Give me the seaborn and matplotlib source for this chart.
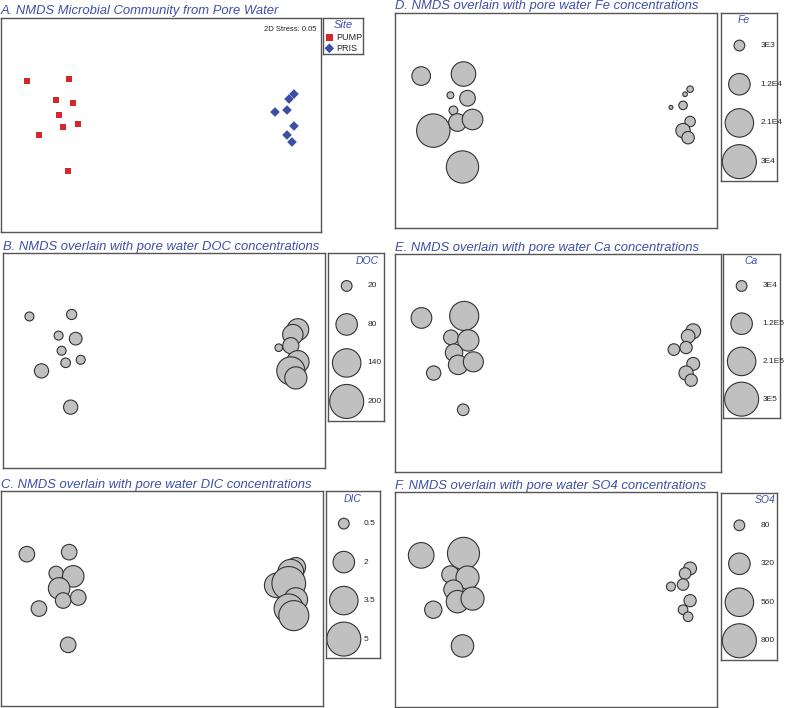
import numpy as np
import pandas as pd
import matplotlib
matplotlib.use("Agg")
import matplotlib.pyplot as plt
import seaborn as sns

# NMDS ordination scores and pore water chemistry per sample
site = ["PUMP"] * 9 + ["PRIS"] * 7
nmds1 = [-1.34, -0.92, -1.05, -0.88, -1.02, -0.98, -0.83, -1.22, -0.93,
         1.33, 1.28, 1.14, 1.26, 1.33, 1.26, 1.31]
nmds2 = [0.44, 0.46, 0.25, 0.22, 0.10, -0.02, 0.01, -0.10, -0.46,
         0.31, 0.26, 0.13, 0.15, -0.01, -0.10, -0.17]
doc = [14, 18, 14, 28, 14, 16, 14, 35, 35, 82, 72, 10, 45, 87, 137, 85]
dic = [1.05, 1.05, 0.88, 2.0, 2.0, 1.05, 1.05, 1.05, 1.05,
       1.65, 2.9, 2.6, 4.9, 2.4, 3.7, 3.9]
fe = [9000, 15600, 1200, 6400, 2000, 8100, 11000, 29000, 27000,
      1100, 550, 400, 1900, 2850, 5400, 4000]
ca = [1.11e5, 2.2e5, 5.7e4, 1.18e5, 7.9e4, 9.8e4, 1.04e5, 5.3e4, 3.5e4,
      5.7e4, 4.8e4, 3.5e4, 3.9e4, 4.3e4, 5.3e4, 3.9e4]
so4 = [455, 711, 207, 369, 256, 348, 369, 207, 348,
       114, 92, 56, 92, 103, 64, 64]

# bubble legend keys
doc_leg = [20, 80, 140, 200]
dic_leg = [0.5, 2, 3.5, 5]
fe_leg = [3e3, 1.2e4, 2.1e4, 3e4]
ca_leg = [3e4, 1.2e5, 2.1e5, 3e5]
so4_leg = [80, 320, 560, 800]
doc_lab = ["20", "80", "140", "200"]
dic_lab = ["0.5", "2", "3.5", "5"]
fe_lab = ["3E3", "1.2E4", "2.1E4", "3E4"]
ca_lab = ["3E4", "1.2E5", "2.1E5", "3E5"]
so4_lab = ["80", "320", "560", "800"]

df = pd.DataFrame({"site": site, "nmds1": nmds1, "nmds2": nmds2,
                   "DOC": doc, "DIC": dic, "Fe": fe, "Ca": ca, "SO4": so4})

sns.set_style("white")
plt.rcParams["font.family"] = ["Liberation Sans", "DejaVu Sans"]

W, H = 787, 708
TITLE_BLUE = "#3d4fab"
RED = "#d7262c"
BLUE = "#3b4fa6"
SPINE = "#555555"
S_MAX = (34 * 0.72) ** 2   # marker area (pt^2) of the largest legend bubble
TITLE_FS = 9.4


def px_rect(x0, y0, x1, y1):
    return [x0 / W, 1 - y1 / H, (x1 - x0) / W, (y1 - y0) / H]


def style_box(ax):
    ax.set_xticks([]); ax.set_yticks([])
    ax.set_xlabel(""); ax.set_ylabel("")
    for sp in ax.spines.values():
        sp.set_visible(True)
        sp.set_color(SPINE)
        sp.set_linewidth(1.0)


fig = plt.figure(figsize=(W / 100, H / 100), dpi=100)

# ---- A: community NMDS
ax = fig.add_axes(px_rect(1, 18.3, 321, 231.7))
sns.scatterplot(data=df, x="nmds1", y="nmds2", hue="site", style="site",
                markers={"PUMP": "s", "PRIS": "D"},
                palette={"PUMP": RED, "PRIS": BLUE},
                s=24, linewidth=0, legend=False, ax=ax)
ax.set_xlim(-1.6, 1.6); ax.set_ylim(-1.067, 1.067)
style_box(ax)
ax.set_title("A. NMDS Microbial Community from Pore Water", loc="left",
             color=TITLE_BLUE, style="italic", fontsize=TITLE_FS, pad=3)
ax.text(0.985, 0.965, "2D Stress: 0.05", transform=ax.transAxes,
        ha="right", va="top", fontsize=5.5)

lax = fig.add_axes(px_rect(323.3, 18.3, 363.3, 54))
site_leg = pd.DataFrame({"site": ["PUMP", "PRIS"], "x": [0.15, 0.15], "y": [0.46, 0.16]})
sns.scatterplot(data=site_leg, x="x", y="y", hue="site", style="site",
                markers={"PUMP": "s", "PRIS": "D"},
                palette={"PUMP": RED, "PRIS": BLUE},
                s=24, linewidth=0, legend=False, ax=lax)
for _, r in site_leg.iterrows():
    lax.text(0.33, r["y"], r["site"], va="center", fontsize=6.5)
lax.text(0.5, 0.82, "Site", ha="center", va="center", color=TITLE_BLUE,
         style="italic", fontsize=8)
lax.set_xlim(0, 1); lax.set_ylim(0, 1)
style_box(lax)

# ---- B-F: bubble overlays
panels = [
    ("DOC", "B. NMDS overlain with pore water DOC concentrations", doc_leg, doc_lab,
     (3.3, 253.3, 325, 468.3), (328.3, 253.3, 384, 420.7), 0.91, "right"),
    ("DIC", "C. NMDS overlain with pore water DIC concentrations", dic_leg, dic_lab,
     (0.7, 491, 323, 706), (326, 491, 380, 658.3), 0.49, "center"),
    ("Fe", "D. NMDS overlain with pore water Fe concentrations", fe_leg, fe_lab,
     (395, 12.7, 717.3, 228.3), (720.7, 12.7, 777.3, 181), 0.40, "center"),
    ("Ca", "E. NMDS overlain with pore water Ca concentrations", ca_leg, ca_lab,
     (395, 254, 720.7, 471.7), (722.7, 254, 780, 418), 0.50, "center"),
    ("SO4", "F. NMDS overlain with pore water SO4 concentrations", so4_leg, so4_lab,
     (395, 492.3, 717.3, 707), (720.7, 492.7, 777.3, 660), 0.96, "right"),
]

leg_y = np.linspace(0.805, 0.115, 4)

for key, title, leg_vals, leg_labs, box, lbox, tx, tha in panels:
    ax = fig.add_axes(px_rect(*box))
    sns.scatterplot(data=df, x="nmds1", y="nmds2", size=key,
                    sizes=(0, S_MAX), size_norm=(0, max(leg_vals)),
                    color="#c0c0c0", edgecolor="#333333", linewidth=0.8,
                    alpha=1, legend=False, ax=ax)
    ax.set_xlim(-1.6, 1.6); ax.set_ylim(-1.067, 1.067)
    style_box(ax)
    ax.set_title(title, loc="left", color=TITLE_BLUE, style="italic",
                 fontsize=TITLE_FS, pad=2.5)

    lax = fig.add_axes(px_rect(*lbox))
    sns.scatterplot(x=[0.33] * 4, y=leg_y, size=leg_vals,
                    sizes=(0, S_MAX), size_norm=(0, max(leg_vals)),
                    color="#c0c0c0", edgecolor="#333333", linewidth=0.8,
                    legend=False, clip_on=False, ax=lax)
    for yy, lab in zip(leg_y, leg_labs):
        lax.text(0.70, yy, lab, va="center", fontsize=6)
    lax.text(tx, 0.955, key, ha=tha, va="center", color=TITLE_BLUE,
             style="italic", fontsize=7.5)
    lax.set_xlim(0, 1); lax.set_ylim(0, 1)
    style_box(lax)

fig.savefig("out.png", dpi=100)
